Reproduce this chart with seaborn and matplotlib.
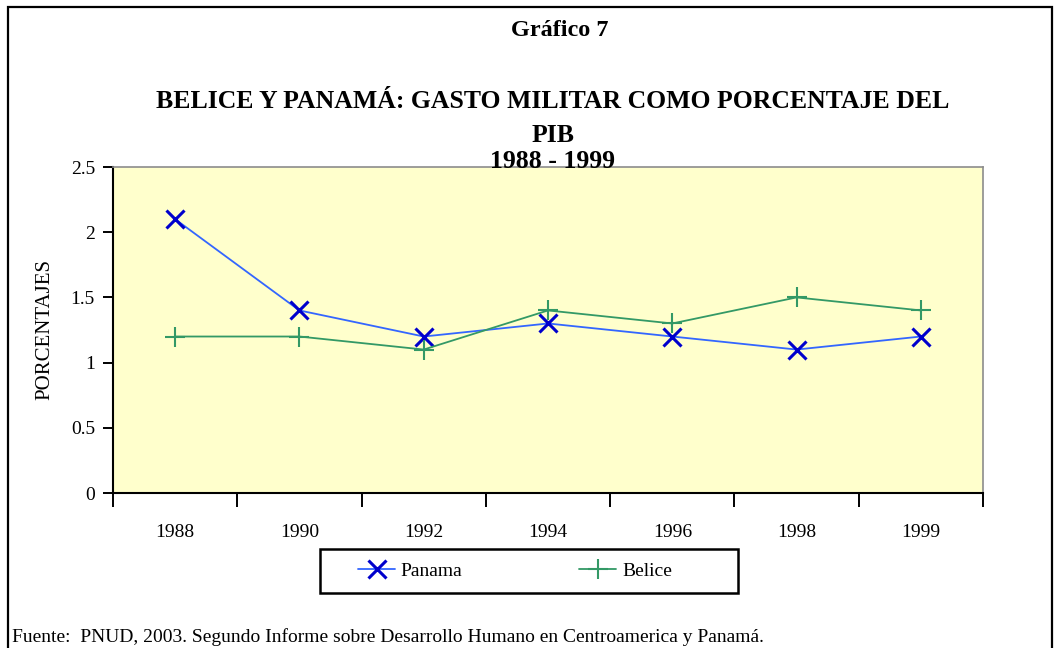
import matplotlib
matplotlib.use("Agg")
import matplotlib.pyplot as plt
import matplotlib.patches as mpatches
import seaborn as sns
import pandas as pd

# data
years = ["1988", "1990", "1992", "1994", "1996", "1998", "1999"]
panama = [2.1, 1.4, 1.2, 1.3, 1.2, 1.1, 1.2]
belice = [1.2, 1.2, 1.1, 1.4, 1.3, 1.5, 1.4]
y_ticks = [0, 0.5, 1, 1.5, 2, 2.5]
y_tick_labels = ["0", "0.5", "1", "1.5", "2", "2.5"]

df = pd.DataFrame({"year": years, "Panama": panama, "Belice": belice})

sns.set_theme(style="white")
plt.rcParams["font.family"] = ["Liberation Serif", "DejaVu Serif"]
plt.rcParams["text.color"] = "black"
plt.rcParams["axes.labelcolor"] = "black"
plt.rcParams["xtick.color"] = "black"
plt.rcParams["ytick.color"] = "black"

W, H = 1060, 648
fig = plt.figure(figsize=(W / 100, H / 100), dpi=100)
fig.patch.set_facecolor("white")

# outer frame (bottom edge falls outside the picture)
frame = mpatches.Rectangle((8 / W, -0.1), (1052 - 8) / W, 1.1 - 7 / H,
                           transform=fig.transFigure, fill=False,
                           edgecolor="black", linewidth=1.6, clip_on=False)
fig.patches.append(frame)

ax = fig.add_axes([113 / W, 1 - 493 / H, (983 - 113) / W, (493 - 167) / H])
ax.set_facecolor("#FFFFCC")

sns.lineplot(data=df, x="year", y="Panama", ax=ax, color="#3366FF",
             linewidth=1.3, marker="x", markersize=13, markeredgewidth=2.2,
             markeredgecolor="#0000CC", label="Panama")
sns.lineplot(data=df, x="year", y="Belice", ax=ax, color="#339966",
             linewidth=1.3, marker="+", markersize=14, markeredgewidth=1.5,
             markeredgecolor="#339966", label="Belice")

n = len(years)
ax.set_xlim(-0.5, n - 0.5)
ax.set_ylim(0, 2.5)

# labels at category centers, tick marks at category boundaries
ax.set_xticks(range(n))
ax.set_xticklabels(years, fontsize=14)
ax.set_xticks([i - 0.5 for i in range(n + 1)], minor=True)
ax.tick_params(axis="x", which="major", length=0, pad=22)
ax.tick_params(axis="x", which="minor", direction="out", length=10,
               width=1.4, color="black", bottom=True)
ax.set_yticks(y_ticks)
ax.set_yticklabels(y_tick_labels, fontsize=14)
ax.tick_params(axis="y", direction="out", length=7, width=1.4,
               color="black", left=True, pad=6)

ax.set_xlabel("")
ax.set_ylabel("PORCENTAJES", fontsize=15, labelpad=12)

for side in ["top", "right"]:
    ax.spines[side].set_color("#8c8c8c")
    ax.spines[side].set_linewidth(1.2)
for side in ["left", "bottom"]:
    ax.spines[side].set_color("black")
    ax.spines[side].set_linewidth(1.5)

ax.get_legend().remove()
handles, labels = ax.get_legend_handles_labels()
fig.legend(handles, labels, loc="center",
           bbox_to_anchor=(515 / W, 1 - 571 / H),
           ncol=2, fontsize=14, frameon=False,
           handlelength=1.9, handletextpad=0.3, columnspacing=6.0)
leg_box = mpatches.Rectangle((320 / W, 1 - 593 / H), 418 / W, 44 / H,
                             transform=fig.transFigure, fill=False,
                             edgecolor="black", linewidth=1.8)
fig.patches.append(leg_box)

fig.text(560 / W, 1 - 30 / H, "Gráfico 7", ha="center", va="center",
         fontsize=17.5, fontweight="bold")
fig.text(553 / W, 1 - 102 / H, "BELICE Y PANAMÁ: GASTO MILITAR COMO PORCENTAJE DEL",
         ha="center", va="center", fontsize=18.5, fontweight="bold")
fig.text(553 / W, 1 - 135 / H, "PIB", ha="center", va="center",
         fontsize=18.5, fontweight="bold")
fig.text(553 / W, 1 - 161 / H, "1988 - 1999", ha="center", va="center",
         fontsize=18.5, fontweight="bold")

fig.text(12 / W, 1 - 637 / H,
         "Fuente:  PNUD, 2003. Segundo Informe sobre Desarrollo Humano en Centroamerica y Panamá.",
         ha="left", va="center", fontsize=14)

fig.savefig("out.png", dpi=100)
